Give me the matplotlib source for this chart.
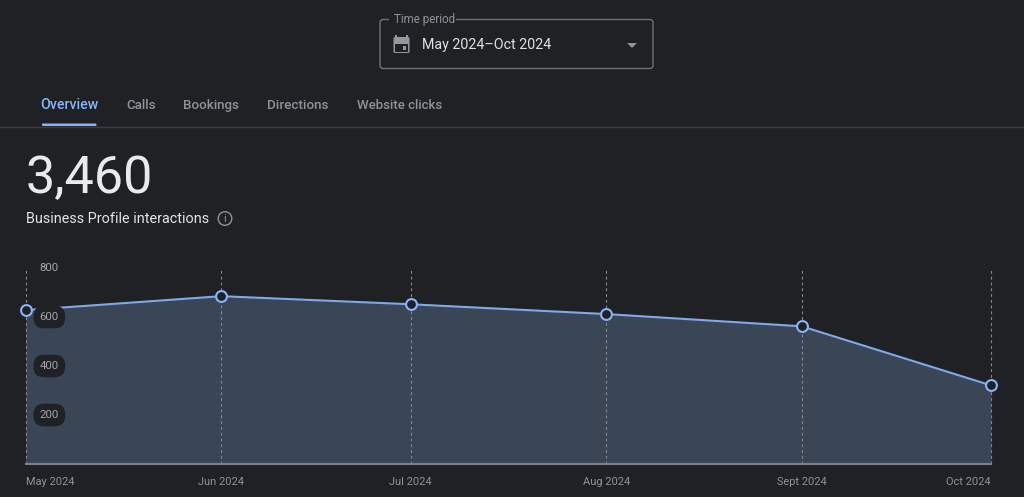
import numpy as np
import pandas as pd
import matplotlib
matplotlib.use("Agg")
from matplotlib import pyplot as plt
from matplotlib.patches import FancyBboxPatch, Circle, Rectangle, Polygon

W, H = 1024, 497
BG = '#202124'
BLUE = '#8ab4f8'
LINE_BLUE = '#7fa9ea'
FILL = '#3a4556'
GREY = '#8f9398'

months = ['2024-05-01', '2024-06-01', '2024-07-01', '2024-08-01', '2024-09-01', '2024-10-01']
month_labels = ['May 2024', 'Jun 2024', 'Jul 2024', 'Aug 2024', 'Sept 2024', 'Oct 2024']
interactions = [628, 685, 652, 612, 562, 321]
y_ticks = [200, 400, 600, 800]
tabs = ['Overview', 'Calls', 'Bookings', 'Directions', 'Website clicks']
tab_x = [40, 126.5, 183.5, 267, 357]
tab_size = [10.2, 9.6, 9.6, 9.7, 9.55]

plt.rcParams['font.family'] = ['Roboto', 'DejaVu Sans']

dates = pd.to_datetime(months)
days = np.array((dates - dates[0]).days)

fig = plt.figure(figsize=(W / 100, H / 100), dpi=100, facecolor=BG)

# page chrome, laid out in pixels from the top left
ui = fig.add_axes([0, 0, 1, 1], zorder=1)
ui.set_xlim(0, W)
ui.set_ylim(H, 0)
ui.axis('off')

# time period selector
ui.add_patch(FancyBboxPatch((380, 19.5), 273, 49, boxstyle='round,pad=0,rounding_size=3',
                            fc='none', ec='#6f7276', lw=1))
ui.add_patch(Rectangle((389, 14), 66.5, 10, fc=BG, ec='none', zorder=3))
ui.text(393.5, 19.5, 'Time period', color=GREY, fontsize=8.4, va='center', ha='left', zorder=4)
ui.text(422, 44.5, 'May 2024\u2013Oct 2024', color='#dfe1e5', fontsize=10.3, va='center', ha='left')

# calendar icon
icon = '#94979c'
ui.add_patch(FancyBboxPatch((393.5, 37), 16, 16, boxstyle='round,pad=0,rounding_size=1.5', fc=icon, ec='none'))
ui.add_patch(Rectangle((395, 44), 13, 7.5, fc=BG, ec='none'))
ui.add_patch(Rectangle((395, 35), 2.2, 3, fc=icon, ec='none'))
ui.add_patch(Rectangle((405.8, 35), 2.2, 3, fc=icon, ec='none'))
ui.add_patch(Rectangle((402.5, 46), 3.5, 3.5, fc=icon, ec='none'))
ui.add_patch(Polygon([(627, 43), (637, 43), (632, 48)], closed=True, fc=GREY, ec='none'))

# tab strip
for i, (tab, x, size) in enumerate(zip(tabs, tab_x, tab_size)):
    ui.text(x, 109, tab, color=BLUE if i == 0 else GREY, fontsize=size, va='baseline', ha='left',
            fontweight='medium')
ui.add_patch(FancyBboxPatch((42, 123.5), 54.5, 2.5, boxstyle='round,pad=0,rounding_size=1',
                            fc=BLUE, ec='none'))
ui.plot([0, W], [126.5, 126.5], color='#3c4043', lw=1)

# headline number
ui.text(26, 193, '3,460', color='#e8eaed', fontsize=37.6, va='baseline', ha='left')
ui.text(26, 219, 'Business Profile interactions', color='#e3e5e8', fontsize=10.35, va='center', ha='left')
ui.add_patch(Circle((225, 218.5), 6.8, fc='none', ec=GREY, lw=1))
ui.text(225, 218.5, 'i', color=GREY, fontsize=8, va='center', ha='center')

# chart area: 0 sits on the baseline, 800 near the top of the guides
ax = fig.add_axes([25.7 / W, (H - 464) / H, 965.3 / W, 196 / H], zorder=2)
ax.patch.set_alpha(0)
ax.set_xlim(days[0], days[-1])
ax.set_ylim(0, 800)
ax.axis('off')

ax.fill_between(days, interactions, 0, color=FILL, lw=0, zorder=1)
ax.vlines(days, 0, 800, color='#85888d', lw=0.8, linestyles=(0, (2.6, 2.6)), zorder=2, clip_on=False)
ax.plot(days, interactions, color=LINE_BLUE, lw=1.5, zorder=3, clip_on=False)
ax.plot([days[0], days[-1]], [0, 0], color='#7d8085', lw=1.5, zorder=3, clip_on=False)

# value axis labels sit in dark pills on top of the area
for v in y_ticks:
    ax.annotate(str(v), (days[0], v), xytext=(17, 0), textcoords='offset points', color='#a3a6ab',
                fontsize=8.2, va='center', ha='center', zorder=4,
                bbox=dict(boxstyle='round,pad=0.55,rounding_size=0.91', fc=BG, ec='none'))

ax.plot(days, interactions, ls='none', marker='o', ms=7.8, mfc=BG, mec=BLUE, mew=1.5, zorder=5,
        clip_on=False)

# month labels; the outer two are pushed inside the chart edges
for i, (d, label) in enumerate(zip(days, month_labels)):
    align = 'left' if i == 0 else 'right' if i == len(days) - 1 else 'center'
    ax.annotate(label, (d, 0), xytext=(0, -9.5), textcoords='offset points', color=GREY,
                fontsize=7.9, va='top', ha=align, annotation_clip=False)

plt.savefig('out.png', dpi=100, facecolor=BG)
plt.close()
